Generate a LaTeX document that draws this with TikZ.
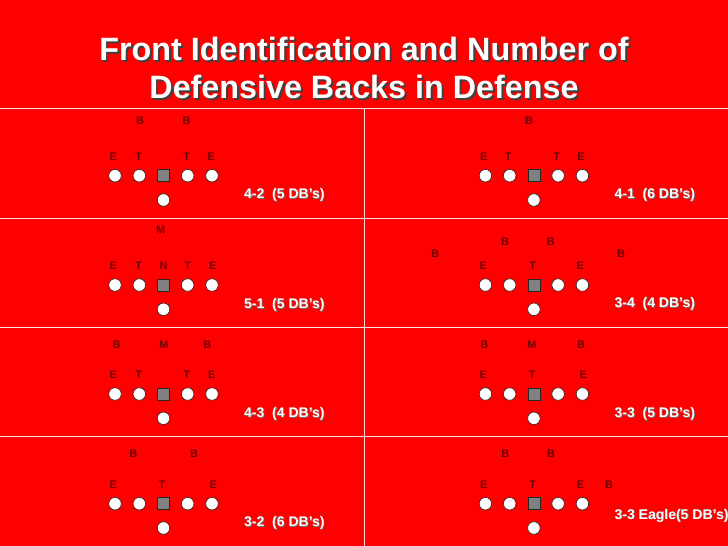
\documentclass[tikz,border=0pt]{standalone}
\usepackage{fontspec}
\setmainfont{Liberation Sans}
\definecolor{bgred}{HTML}{FF0000}
\definecolor{letter}{HTML}{700000}
\definecolor{rule}{HTML}{FFE0E0}
\newcommand{\shtext}[4]{\rlap{\kern#1\raisebox{-#1}{\textcolor{#2}{#4}}}#4}
\begin{document}
\begin{tikzpicture}[x=1pt,y=-1pt,
  plyr/.style={font=\bfseries\fontsize{11}{11}\selectfont, text=letter, inner sep=0pt},
  man/.style={circle, draw=black!85, fill=white, minimum size=12.5pt, inner sep=0pt, line width=0.6pt},
  ctr/.style={rectangle, draw=black!85, fill=black!50, minimum size=12pt, inner sep=0pt, line width=0.6pt},
  lab/.style={font=\bfseries\fontsize{14}{14}\selectfont, text=white, anchor=west, inner sep=0pt},
  ttl/.style={font=\bfseries\fontsize{32.3}{32.3}\selectfont, text=white, inner sep=0pt},
  rl/.style={draw=rule, line width=1pt}]
\fill[bgred] (0,0) rectangle (728,546);
\useasboundingbox (0,0) rectangle (728,546);
% title
\node[ttl] (t1) at (364,50) {\shtext{2pt}{black!75}{}{Front Identification and Number of}};
\node[ttl] (t2) at (364,88) {\shtext{2pt}{black!75}{}{Defensive Backs in Defense}};
% rules
\draw[rl] (0,108.5) -- (728,108.5);
\draw[rl] (0,218.3) -- (728,218.3);
\draw[rl] (0,327.5) -- (728,327.5);
\draw[rl] (0,436.7) -- (728,436.7);
\draw[rl] (364.4,108.5) -- (364.4,546);
% formations
\foreach \px/\py/\k in {0/175.7/a, 370.4/175.7/b, 0/285/c, 370.4/285/d, 0/394/e, 370.4/394/f, 0/503.7/g, 370.4/503.7/h} {
  \node[man] (\k1) at (\px+115,\py) {};
  \node[man] (\k2) at (\px+139.3,\py) {};
  \node[ctr] (\k3) at (\px+163.5,\py) {};
  \node[man] (\k4) at (\px+187.7,\py) {};
  \node[man] (\k5) at (\px+212,\py) {};
  \node[man] (\k6) at (\px+163.5,\py+24.3) {};
}
% labels
\foreach \px/\py/\k/\t in {0/195.5/a/{4-2\ \ (5 DB’s)}, 370.4/195.5/b/{4-1\ \ (6 DB’s)}, 0/305/c/{5-1\ \ (5 DB’s)}, 370.4/304.5/d/{3-4\ \ (4 DB’s)}, 0/414/e/{4-3\ \ (4 DB’s)}, 370.4/414/f/{3-3\ \ (5 DB’s)}, 0/523.3/g/{3-2\ \ (6 DB’s)}, 370.4/516/h/{3-3 Eagle(5 DB’s)}} {
  \node[lab] (\k l) at (\px+244,\py) {\shtext{0.8pt}{black!55}{}{\t}};
}
% panel a 4-2
\node[plyr] (aB1) at (140,120.7) {B};
\node[plyr] (aB2) at (186.5,120.7) {B};
\node[plyr] (aE1) at (113.3,156.7) {E};
\node[plyr] (aT1) at (138.7,156.7) {T};
\node[plyr] (aT2) at (186.7,156.7) {T};
\node[plyr] (aE2) at (211,156.7) {E};
% panel b 4-1
\node[plyr] (bB1) at (529,120.7) {B};
\node[plyr] (bE1) at (483.7,156.7) {E};
\node[plyr] (bT1) at (508.3,156.7) {T};
\node[plyr] (bT2) at (556.7,156.7) {T};
\node[plyr] (bE2) at (581,156.7) {E};
% panel c 5-1
\node[plyr] (cM) at (160.7,230) {M};
\node[plyr] (cE1) at (113.3,265.7) {E};
\node[plyr] (cT1) at (138.7,265.7) {T};
\node[plyr] (cN) at (163.7,265.7) {N};
\node[plyr] (cT2) at (187.7,265.7) {T};
\node[plyr] (cE2) at (212.7,265.7) {E};
% panel d 3-4
\node[plyr] (dB1) at (435.3,253.3) {B};
\node[plyr] (dB2) at (505,241.7) {B};
\node[plyr] (dB3) at (550.7,241.7) {B};
\node[plyr] (dB4) at (621,253.3) {B};
\node[plyr] (dE1) at (483.3,265.7) {E};
\node[plyr] (dT) at (532.7,265.7) {T};
\node[plyr] (dE2) at (580.3,265.7) {E};
% panel e 4-3
\node[plyr] (eB1) at (116.7,345) {B};
\node[plyr] (eM) at (164,345) {M};
\node[plyr] (eB2) at (207.3,345) {B};
\node[plyr] (eE1) at (113.3,374.3) {E};
\node[plyr] (eT1) at (138.7,374.3) {T};
\node[plyr] (eT2) at (186.7,374.3) {T};
\node[plyr] (eE2) at (211.7,374.3) {E};
% panel f 3-3
\node[plyr] (fB1) at (484.3,345) {B};
\node[plyr] (fM) at (532,345) {M};
\node[plyr] (fB2) at (581,345) {B};
\node[plyr] (fE1) at (483.3,374.3) {E};
\node[plyr] (fT) at (532,374.3) {T};
\node[plyr] (fE2) at (583.3,374.3) {E};
% panel g 3-2
\node[plyr] (gB1) at (133.3,453.3) {B};
\node[plyr] (gB2) at (194,453.3) {B};
\node[plyr] (gE1) at (113.3,485) {E};
\node[plyr] (gT) at (162,485) {T};
\node[plyr] (gE2) at (213.3,485) {E};
% panel h 3-3 Eagle
\node[plyr] (hB1) at (505.3,453.3) {B};
\node[plyr] (hB2) at (551,453.3) {B};
\node[plyr] (hE1) at (483.7,485) {E};
\node[plyr] (hT) at (532.7,485) {T};
\node[plyr] (hE2) at (580.3,485) {E};
\node[plyr] (hB3) at (609,485) {B};
\end{tikzpicture}
\end{document}
